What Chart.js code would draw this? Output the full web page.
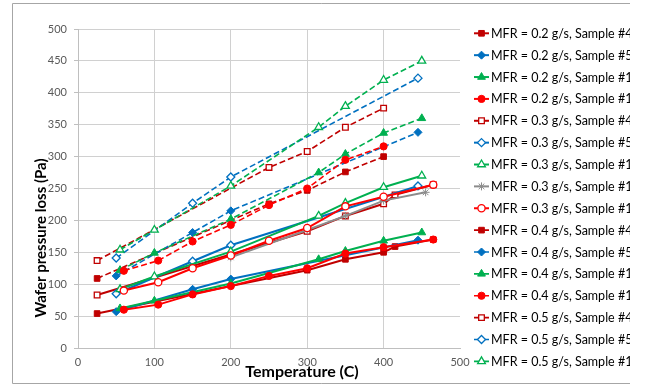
<!DOCTYPE html>
<html>
<head>
<meta charset="utf-8">
<script src="https://cdn.jsdelivr.net/npm/chart.js@4.4.1/dist/chart.umd.min.js"></script>
<style>
  html, body { margin: 0; padding: 0; background: #ffffff; overflow: hidden; }
  #wrap { width: 646px; height: 385px; position: relative; }
</style>
</head>
<body>
<div id="wrap"><canvas id="c" width="646" height="385"></canvas></div>
<script>
// Wafer pressure loss (Pa) against temperature (C), per mass flow rate and sample.

const seriesLabels = [
  'MFR = 0.2 g/s, Sample #4', 'MFR = 0.2 g/s, Sample #5', 'MFR = 0.2 g/s, Sample #14', 'MFR = 0.2 g/s, Sample #15',
  'MFR = 0.3 g/s, Sample #4', 'MFR = 0.3 g/s, Sample #5', 'MFR = 0.3 g/s, Sample #14', 'MFR = 0.3 g/s, Sample #15',
  'MFR = 0.3 g/s, Sample #15',
  'MFR = 0.4 g/s, Sample #4', 'MFR = 0.4 g/s, Sample #5', 'MFR = 0.4 g/s, Sample #14', 'MFR = 0.4 g/s, Sample #15',
  'MFR = 0.5 g/s, Sample #4', 'MFR = 0.5 g/s, Sample #5', 'MFR = 0.5 g/s, Sample #14'
];

// MFR = 0.2 g/s
const temp02s4  = [25, 300, 350, 400, 415, 465];
const loss02s4  = [54, 122, 139, 150, 159, 170];
const temp02s5  = [50, 150, 200, 445];
const loss02s5  = [57, 92, 108, 169];
const temp02s14 = [55, 100, 200, 315, 350, 400, 450];
const loss02s14 = [62, 74, 101, 139, 152, 168, 181];
const temp02s15 = [60, 105, 150, 200, 250, 300, 350, 400, 465];
const loss02s15 = [60, 68, 84, 97, 113, 125, 148, 158, 170];

// MFR = 0.3 g/s
const temp03s4  = [25, 300, 350, 400, 415, 465];
const loss03s4  = [83, 183, 207, 226, 240, 256];
const temp03s5  = [50, 150, 200, 445];
const loss03s5  = [85, 136, 161, 254];
const temp03s14 = [55, 100, 200, 315, 350, 400, 450];
const loss03s14 = [92, 112, 151, 207, 227, 252, 270];
const temp03s15a = [200, 300, 350, 400, 455];
const loss03s15a = [142, 185, 207, 231, 244];
const temp03s15b = [60, 105, 150, 200, 250, 300, 350, 400, 465];
const loss03s15b = [90, 103, 125, 145, 168, 188, 222, 237, 256];

// MFR = 0.4 g/s
const temp04s4  = [25, 250, 300, 350, 400];
const loss04s4  = [109, 226, 247, 276, 300];
const temp04s5  = [50, 150, 200, 445];
const loss04s5  = [113, 181, 215, 338];
const temp04s14 = [55, 100, 200, 315, 350, 400, 450];
const loss04s14 = [122, 149, 202, 275, 304, 337, 360];
const temp04s15 = [60, 105, 150, 200, 250, 300, 350, 400];
const loss04s15 = [121, 137, 167, 193, 224, 250, 295, 316];

// MFR = 0.5 g/s
const temp05s4  = [25, 250, 300, 350, 400];
const loss05s4  = [137, 283, 308, 346, 376];
const temp05s5  = [50, 150, 200, 445];
const loss05s5  = [141, 227, 268, 423];
const temp05s14 = [55, 100, 200, 315, 350, 400, 450];
const loss05s14 = [154, 185, 254, 346, 379, 420, 450];

const xTicks = [0, 100, 200, 300, 400, 500];
const yTicks = [0, 50, 100, 150, 200, 250, 300, 350, 400, 450, 500];

const temps = [temp02s4, temp02s5, temp02s14, temp02s15, temp03s4, temp03s5, temp03s14, temp03s15a, temp03s15b,
               temp04s4, temp04s5, temp04s14, temp04s15, temp05s4, temp05s5, temp05s14];
const losses = [loss02s4, loss02s5, loss02s14, loss02s15, loss03s4, loss03s5, loss03s14, loss03s15a, loss03s15b,
                loss04s4, loss04s5, loss04s14, loss04s15, loss05s4, loss05s5, loss05s14];

// Styling per series
const DARKRED = '#C00000', BLUE = '#0070C0', GREEN = '#00B050', RED = '#FF0000', GRAY = '#8C8C8C';
const colors = [DARKRED, BLUE, GREEN, RED, DARKRED, BLUE, GREEN, GRAY, RED, DARKRED, BLUE, GREEN, RED, DARKRED, BLUE, GREEN];
const shapes = ['rect', 'rectRot', 'triangle', 'circle', 'rect', 'rectRot', 'triangle', 'star', 'circle',
                'rect', 'rectRot', 'triangle', 'circle', 'rect', 'rectRot', 'triangle'];
const hollow = [false, false, false, false, true, true, true, false, true, false, false, false, false, true, true, true];
const dashed = [false, false, false, false, false, false, false, false, false, true, true, true, true, true, true, true];
const radii = { rect: 4, rectRot: 4, triangle: 4.5, circle: 3.6, star: 4 };

const datasets = seriesLabels.map((label, i) => ({
  label,
  data: temps[i].map((t, k) => ({ x: t, y: losses[i][k] })),
  borderColor: colors[i],
  backgroundColor: colors[i],
  borderWidth: dashed[i] ? 1.6 : 2,
  borderDash: dashed[i] ? [6, 3] : [],
  pointStyle: shapes[i],
  pointRadius: radii[shapes[i]],
  pointBorderColor: colors[i],
  pointBackgroundColor: hollow[i] ? '#ffffff' : colors[i],
  pointBorderWidth: hollow[i] ? 1.3 : 1,
  tension: 0,
  fill: false,
  order: -i
}));

const FONT = 'Lato, "Open Sans", sans-serif';

const decorations = {
  id: 'decorations',
  afterDraw(chart) {
    const ctx = chart.ctx;
    ctx.save();
    // outer frame
    ctx.strokeStyle = '#a6a6a6';
    ctx.lineWidth = 1;
    ctx.beginPath();
    ctx.moveTo(630, 3.5); ctx.lineTo(12.5, 3.5); ctx.lineTo(12.5, 383.5); ctx.lineTo(630, 383.5);
    ctx.stroke();

    // axis titles
    ctx.fillStyle = '#000000';
    ctx.font = 'bold 16px ' + FONT;
    ctx.textAlign = 'center';
    ctx.textBaseline = 'middle';
    ctx.fillText('Temperature (C)', 302, 372);
    ctx.save();
    ctx.translate(41, 238);
    ctx.rotate(-Math.PI / 2);
    ctx.font = 'bold 15px ' + FONT;
    ctx.fillText('Wafer pressure loss (Pa)', 0, 0);
    ctx.restore();

    // legend
    ctx.beginPath();
    ctx.rect(0, 0, 630, 385);
    ctx.clip();
    ctx.font = '12.5px ' + FONT;
    ctx.textAlign = 'left';
    ctx.textBaseline = 'middle';
    chart.data.datasets.forEach((ds, i) => {
      const y = 33.3 + i * 21.87;
      ctx.save();
      ctx.strokeStyle = ds.borderColor;
      ctx.lineWidth = ds.borderWidth;
      ctx.setLineDash(ds.borderDash);
      ctx.beginPath();
      ctx.moveTo(474, y); ctx.lineTo(489, y);
      ctx.stroke();
      ctx.setLineDash([]);
      ctx.fillStyle = ds.pointBackgroundColor;
      ctx.strokeStyle = ds.pointBorderColor;
      ctx.lineWidth = ds.pointBorderWidth;
      Chart.helpers.drawPoint(ctx, { pointStyle: ds.pointStyle, radius: ds.pointRadius, borderWidth: ds.pointBorderWidth, rotation: 0 }, 481.5, y);
      ctx.restore();
      ctx.fillStyle = '#000000';
      ctx.fillText(ds.label, 491, y + 0.5);
    });
    ctx.restore();
  }
};

new Chart(document.getElementById('c'), {
  type: 'line',
  data: { datasets },
  options: {
    responsive: false,
    animation: false,
    devicePixelRatio: 1,
    layout: { padding: { left: 0, right: 186, top: 29, bottom: 0 } },
    plugins: { legend: { display: false }, tooltip: { enabled: false } },
    scales: {
      x: {
        type: 'linear',
        min: 0, max: 500,
        afterBuildTicks: (s) => { s.ticks = xTicks.map(v => ({ value: v })); },
        afterFit: (s) => { s.height = 37; },
        grid: {
          color: (c) => (c.tick && c.tick.value === 500) ? 'rgba(0,0,0,0)' : '#d0d0d0',
          drawTicks: false
        },
        border: { display: true, color: '#bfbfbf' },
        ticks: { color: '#595959', font: { family: FONT, size: 11 }, padding: 8, maxRotation: 0 }
      },
      y: {
        type: 'linear',
        min: 0, max: 500,
        afterBuildTicks: (s) => { s.ticks = yTicks.map(v => ({ value: v })); },
        afterFit: (s) => { s.width = 78; },
        grid: { color: '#d0d0d0', tickLength: 4, tickColor: '#bfbfbf' },
        border: { display: true, color: '#bfbfbf' },
        ticks: { color: '#595959', font: { family: FONT, size: 11 }, padding: 7 }
      }
    }
  },
  plugins: [decorations]
});
</script>
</body>
</html>
